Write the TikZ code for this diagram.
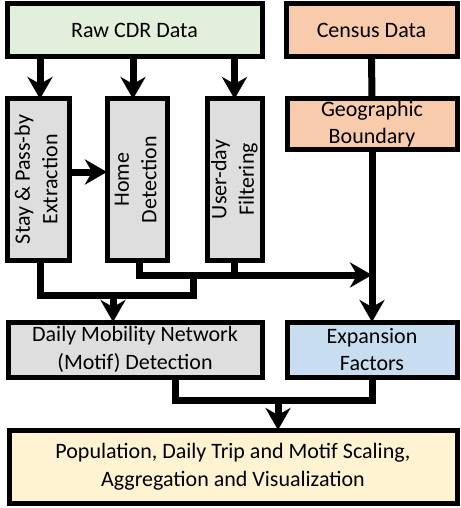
\documentclass[tikz,border=0pt]{standalone}
\usepackage{fontspec}
\setmainfont{Carlito}
\usetikzlibrary{positioning, calc, arrows.meta}

\definecolor{cdrgreen}{HTML}{E2EFDA}
\definecolor{censusorange}{HTML}{F8CBAD}
\definecolor{stepgray}{HTML}{DEDEDE}
\definecolor{expblue}{HTML}{C9DDF1}
\definecolor{outyellow}{HTML}{FFF3D2}

\newcommand{\vlabel}[2]{\rotatebox{90}{\begin{tabular}{@{}c@{}}#1\\#2\end{tabular}}}

\begin{document}
\begin{tikzpicture}[
    x=1pt, y=-1pt,
    font=\fontsize{22}{27.5}\selectfont,
    blockbox/.style={draw, line width=5pt, inner sep=0pt, outer sep=0pt, align=center},
    wire/.style={line width=7pt, line join=miter},
    arr/.style={wire, -{Stealth[length=22pt, width=25pt, inset=7pt]}}
  ]
  \useasboundingbox (0,0) rectangle (460,508);

  \node[blockbox, fill=cdrgreen, minimum width=255, minimum height=53] (raw) at (134.5,30.5) {Raw CDR Data};
  \node[blockbox, fill=censusorange, minimum width=171, minimum height=53] (census) at (371.5,30.5) {Census Data};

  \node[blockbox, fill=stepgray, minimum width=62, minimum height=161] (stay) at (38,179.5) {\vlabel{Stay \& Pass-by}{Extraction}};
  \node[blockbox, fill=stepgray, minimum width=60, minimum height=161] (home) at (137,179.5) {\vlabel{Home}{Detection}};
  \node[blockbox, fill=stepgray, minimum width=55, minimum height=161] (user) at (234.5,179.5) {\vlabel{User-day}{Filtering}};
  \node[blockbox, fill=censusorange, minimum width=170, minimum height=50] (geo) at (372,124) {Geographic\\Boundary};

  \node[blockbox, fill=stepgray, minimum width=254, minimum height=55] (daily) at (135,349.5) {Daily Mobility Network\\(Motif) Detection};
  \node[blockbox, fill=expblue, minimum width=170, minimum height=55] (exp) at (372,349.5) {Expansion\\Factors};
  \node[blockbox, fill=outyellow, minimum width=448, minimum height=73] (final) at (233,466.5) {Population, Daily Trip and Motif Scaling,\\Aggregation and Visualization};

  \coordinate (hub) at (geo.south |- 0,275);
  \coordinate (mid) at (193,295);
  \coordinate (dm) at (113,295);
  \coordinate (bl) at (175,400);
  \coordinate (fa) at (278,400);

  \draw[arr] (40,57) -- (40,99);
  \draw[arr] (raw.south -| 133,0) -- (home.north -| 133,0);
  \draw[arr] (raw.south -| user.north) -- (user.north);
  \draw[arr] (stay.east |- 0,172) -- (home.west |- 0,172);

  \draw[wire] (census.south) -- (geo.north);
  \draw[arr] (geo.south) -- (exp.north);

  \draw[arr] (home.south -| 139,0) |- (hub);
  \draw[wire] (user.south) -- (user.south |- hub);
  \draw[wire] (stay.south -| 40,0) |- (mid) -- (mid |- hub);
  \draw[arr] (dm) -- (dm |- daily.north);

  \draw[wire] (daily.south -| bl) |- (exp.south |- bl) -- (exp.south);
  \draw[arr] (fa) -- (fa |- final.north);
\end{tikzpicture}
\end{document}
